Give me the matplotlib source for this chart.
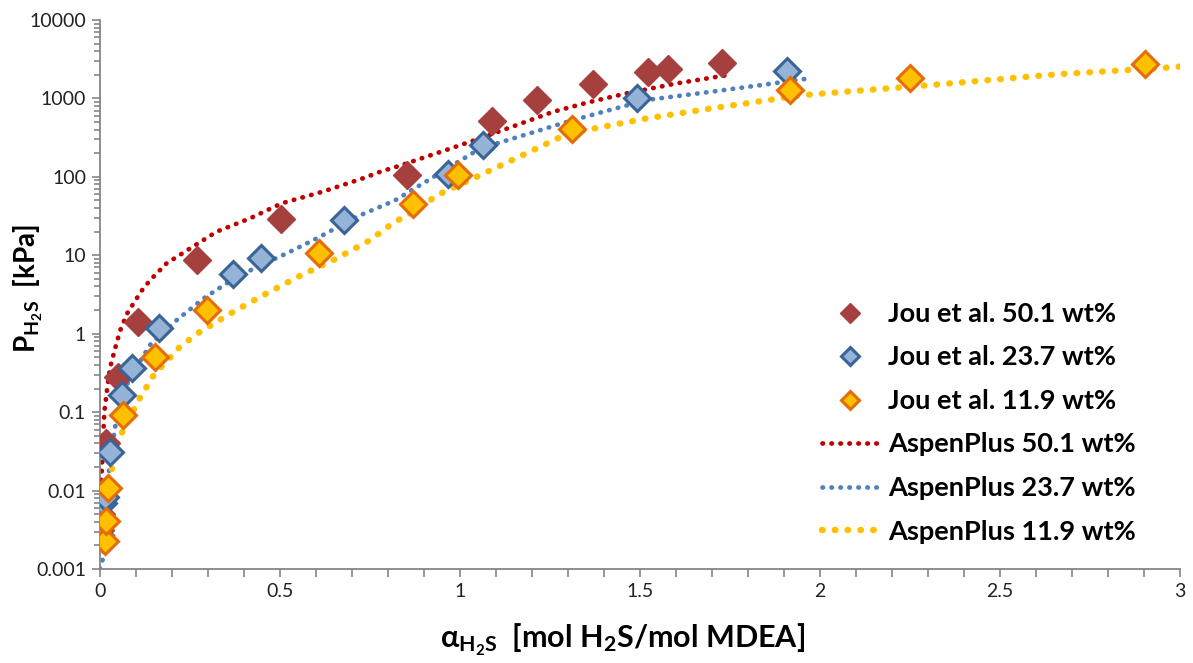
import matplotlib
matplotlib.use("Agg")
import matplotlib.pyplot as plt
from matplotlib.ticker import LogLocator, FixedLocator, NullFormatter, FixedFormatter, MultipleLocator

plt.rcParams['font.family'] = ['Lato', 'DejaVu Sans']
plt.rcParams['mathtext.fontset'] = 'custom'
plt.rcParams['mathtext.rm'] = 'Lato'
plt.rcParams['mathtext.bf'] = 'Lato:bold'
plt.rcParams['mathtext.it'] = 'Lato:italic'
plt.rcParams['mathtext.fallback'] = 'stixsans'

# Experimental data (Jou et al.)
a_501 = [0.000, 0.004, 0.000, 0.000, 0.018, 0.050, 0.106, 0.269, 0.503, 0.852, 1.088, 1.215, 1.370, 1.523, 1.579, 1.727]
p_501 = [0.0031, 0.0051, 0.0069, 0.0095, 0.040, 0.28, 1.42, 8.7, 29, 105, 515, 955, 1550, 2190, 2350, 2850]

a_237 = [0.000, 0.008, 0.014, 0.028, 0.060, 0.088, 0.165, 0.370, 0.446, 0.678, 0.968, 1.065, 1.493, 1.907]
p_237 = [0.0027, 0.0069, 0.0083, 0.031, 0.165, 0.37, 1.17, 5.8, 9.1, 28, 109, 255, 1020, 2250]

a_119 = [0.014, 0.018, 0.023, 0.065, 0.153, 0.298, 0.608, 0.870, 0.995, 1.310, 1.917, 2.250, 2.903]
p_119 = [0.0023, 0.0041, 0.0108, 0.092, 0.51, 2.0, 10.7, 45, 105, 405, 1290, 1830, 2750]

# AspenPlus model curves
m_a_501 = [0.000, 0.005, 0.012, 0.020, 0.028, 0.042, 0.056, 0.075, 0.093, 0.115, 0.139, 0.185, 0.250,
           0.324, 0.417, 0.505, 0.620, 0.731, 0.778, 0.829, 0.950, 1.056, 1.159, 1.259, 1.360, 1.463,
           1.600, 1.745]
m_p_501 = [0.008, 0.018, 0.10, 0.20, 0.37, 0.65, 1.10, 1.80, 2.43, 3.5, 4.8, 7.9, 12.2,
           20.0, 29.6, 46.0, 65.0, 96.0, 116, 137, 211, 310, 460, 676, 900, 1160,
           1550, 1990]

m_a_237 = [0.000, 0.009, 0.016, 0.026, 0.042, 0.060, 0.079, 0.111, 0.139, 0.213, 0.287, 0.352, 0.435,
           0.519, 0.602, 0.713, 0.778, 0.819, 0.930, 1.056, 1.180, 1.296, 1.400, 1.519, 1.700, 1.850, 1.970]
m_p_237 = [0.0010, 0.0014, 0.005, 0.020, 0.065, 0.14, 0.25, 0.44, 0.72, 1.49, 2.8, 4.4, 7.1,
           10.6, 16.4, 31.0, 41.5, 50.0, 102, 230, 343, 500, 680, 955, 1220, 1510, 1800]

m_a_119 = [0.015, 0.025, 0.037, 0.050, 0.070, 0.110, 0.150, 0.222, 0.278, 0.370, 0.463, 0.560, 0.657,
           0.750, 0.815, 0.889, 0.935, 1.000, 1.056, 1.150, 1.278, 1.350, 1.519, 1.700, 1.949, 2.306,
           2.657, 2.977, 3.000]
m_p_119 = [0.002, 0.010, 0.026, 0.045, 0.065, 0.15, 0.30, 0.68, 1.06, 1.9, 3.27, 5.6, 9.1,
           15.6, 26.0, 40.0, 58.0, 80.0, 105, 168, 320, 395, 557, 748, 1100, 1480,
           2030, 2490, 2550]

y_ticks = [0.001, 0.01, 0.1, 1, 10, 100, 1000, 10000]
y_labels = ['0.001', '0.01', '0.1', '1', '10', '100', '1000', '10000']
x_ticks = [0, 0.5, 1, 1.5, 2, 2.5, 3]
x_labels = ['0', '0.5', '1', '1.5', '2', '2.5', '3']

fig = plt.figure(figsize=(11.93, 6.63), dpi=100)
ax = fig.add_axes([100/1193, 1-569/663, 1080/1193, 549/663])

ax.plot(m_a_501, m_p_501, color='#C00000', lw=3.4, label='AspenPlus 50.1 wt%',
        linestyle=(0, (0.1, 1.8)), dash_capstyle='round', zorder=2)
ax.plot(m_a_237, m_p_237, color='#4F81BD', lw=3.4, label='AspenPlus 23.7 wt%',
        linestyle=(0, (0.1, 1.8)), dash_capstyle='round', zorder=2)
ax.plot(m_a_119, m_p_119, color='#FFC000', lw=4.6, label='AspenPlus 11.9 wt%',
        linestyle=(0, (0.1, 1.9)), dash_capstyle='round', zorder=2)

ax.plot(a_501, p_501, linestyle='none', marker='D', ms=14, mfc='#A5403E', mec='#A5403E', mew=1,
        label='Jou et al. 50.1 wt%', zorder=3)
ax.plot(a_237, p_237, linestyle='none', marker='D', ms=13, mfc='#95B3D7', mec='#3A6497', mew=2.2,
        label='Jou et al. 23.7 wt%', zorder=4)
ax.plot(a_119, p_119, linestyle='none', marker='D', ms=13, mfc='#FFC000', mec='#E46C0A', mew=2.2,
        label='Jou et al. 11.9 wt%', zorder=5)

ax.set_yscale('log')
ax.set_xlim(0, 3)
ax.set_ylim(0.001, 10000)
ax.yaxis.set_major_locator(FixedLocator(y_ticks))
ax.yaxis.set_major_formatter(FixedFormatter(y_labels))
ax.yaxis.set_minor_locator(LogLocator(base=10, subs=range(2, 10), numticks=20))
ax.yaxis.set_minor_formatter(NullFormatter())
ax.xaxis.set_major_locator(FixedLocator(x_ticks))
ax.xaxis.set_major_formatter(FixedFormatter(x_labels))
ax.xaxis.set_minor_locator(MultipleLocator(0.1))

for s in ['top', 'right']:
    ax.spines[s].set_visible(False)
for s in ['left', 'bottom']:
    ax.spines[s].set_color('#868686')
    ax.spines[s].set_linewidth(1.3)
ax.tick_params(axis='both', which='both', direction='out', color='#868686', width=1.2)
ax.tick_params(axis='both', which='major', length=6, labelsize=14, pad=4, labelcolor='#222222')
ax.tick_params(axis='y', which='minor', length=4)
ax.tick_params(axis='x', which='minor', length=6)

ax.set_xlabel(r'$\mathbf{\alpha_{H_2S}}$  [mol H$_\mathbf{2}$S/mol MDEA]', fontsize=22, fontweight='bold')
ax.xaxis.set_label_coords((623-100)/1080, -0.097, transform=ax.transAxes)
ax.xaxis.label.set_va('top')
ax.set_ylabel(r'$\mathbf{P_{H_2S}}$  [kPa]', fontsize=20, fontweight='bold')
ax.yaxis.set_label_coords((45-100)/1080, (569-288)/549, transform=ax.transAxes)

handles, labels = ax.get_legend_handles_labels()
order = [3, 4, 5, 0, 1, 2]
leg = fig.legend([handles[i] for i in order], [labels[i] for i in order],
                 loc='upper left', bbox_to_anchor=(822/1193, 1-302/663), frameon=False,
                 prop={'weight': 'bold', 'size': 19.5}, labelspacing=0.72, handlelength=2.1,
                 handletextpad=0.35, markerscale=0.72, borderpad=0, borderaxespad=0)

fig.savefig('out.png', dpi=100)
